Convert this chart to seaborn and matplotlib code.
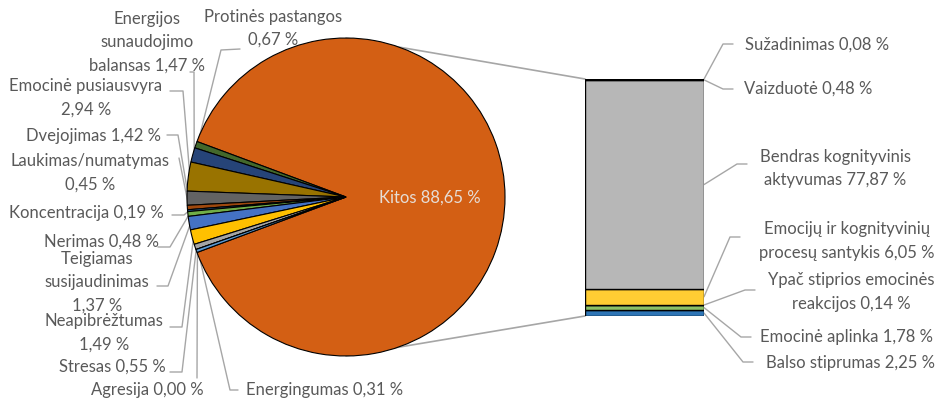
import numpy as np
import matplotlib
matplotlib.use("Agg")
import matplotlib.pyplot as plt
import seaborn as sns

# ---------------- data ----------------
pie_names = ["Kitos ", "Protinės pastangos\n", "Energijos\nsunaudojimo\nbalansas ",
             "Emocinė pusiausvyra\n", "Dvejojimas ", "Laukimas/numatymas\n",
             "Koncentracija ", "Nerimas ", "Teigiamas\nsusijaudinimas\n",
             "Neapibrėžtumas\n", "Stresas ", "Agresija ", "Energingumas "]
pie_values = [88.65, 0.67, 1.47, 2.94, 1.42, 0.45, 0.19, 0.48, 1.37, 1.49, 0.55, 0.00, 0.31]

bar_names = ["Balso stiprumas ", "Emocinė aplinka ", "Ypač stiprios emocinės\nreakcijos ",
             "Emocijų ir kognityvinių\nprocesų santykis ", "Bendras kognityvinis\naktyvumas ",
             "Vaizduotė ", "Sužadinimas "]
bar_values = [2.25, 1.78, 0.14, 6.05, 77.87, 0.48, 0.08]

# ---------------- style ----------------
pie_colors = ["#D35F14", "#43682B", "#264478", "#997300", "#636363", "#9E480E",
              "#255E91", "#70AD47", "#4472C4", "#FFC000", "#A5A5A5", "#698ED0", "#5B9BD5"]
bar_colors = ["#2E75B6", "#8CC168", "#7CAFDD", "#FFCD33", "#B7B7B7", "#F1975A", "#698ED0"]

W, H = 945, 400
sns.set_theme(style="white")
plt.rcParams["font.family"] = ["Lato", "DejaVu Sans"]
TXT = "#595959"
LINE = "#A6A6A6"
FS = 12
LS = 1.55

def fmt(v):
    return f"{v:.2f}".replace(".", ",") + " %"

def P(x, y):  # pixel (y down) -> main axes data
    return (x, H - y)

fig = plt.figure(figsize=(W / 100, H / 100), dpi=100)
ax = fig.add_axes([0, 0, 1, 1])

# pie geometry (layout)
cx, cy, R = P(346, 197)[0], P(346, 197)[1], 159
start = -pie_values[0] / sum(pie_values) * 360 / 2
wedges, _ = ax.pie(pie_values, colors=pie_colors, startangle=start, counterclock=True,
                   center=(cx, cy), radius=R,
                   wedgeprops=dict(edgecolor="black", linewidth=0.8), normalize=True)
for w in wedges:
    w.set_zorder(3)
ax.set_xlim(0, W)
ax.set_ylim(0, H)
ax.set_aspect("equal")
ax.axis("off")

# bar of the "Kitos" part
bx0, bx1, by0, by1 = 585, 704, 79, 316
ax_bar = fig.add_axes([bx0 / W, (H - by1) / H, (bx1 - bx0) / W, (by1 - by0) / H])
bottoms = np.concatenate([[0], np.cumsum(bar_values)[:-1]])
ax_bar.bar([0] * len(bar_values), bar_values, bottom=bottoms, width=1.0,
           color=bar_colors, edgecolor="black", linewidth=1.0, align="center")
ax_bar.set_xlim(-0.5, 0.5)
ax_bar.set_ylim(0, sum(bar_values))
ax_bar.axis("off")
ax_bar.patch.set_alpha(0)

fig.canvas.draw()

def bar_pt(x, y):
    disp = ax_bar.transData.transform((x, y))
    return ax.transData.inverted().transform(disp)

# connector lines pie -> bar
top_bar = bar_pt(-0.5, sum(bar_values))
bot_bar = bar_pt(-0.5, 0)
ax.plot([cx, top_bar[0]], [cy + R, top_bar[1]], color=LINE, lw=1.2, zorder=1)
ax.plot([cx, bot_bar[0]], [cy - R, bot_bar[1]], color=LINE, lw=1.2, zorder=1)

# pie labels (layout)
pie_label_pos = [(430, 198), (273, 28.5), (147, 42.5), (86, 98), (93, 136), (90, 173),
                 (86, 213), (101, 241.5), (97, 282), (104, 333), (112, 367), (147, 390), (325, 390)]
pie_leaders = [None, [(240, 49), (221, 50)], [(190, 72), (194, 72)], [(170, 91), (183, 91)],
               [(167, 135), (178, 135)], [(179, 158)], [(172, 215), (184, 215)],
               [(158, 247), (170, 247)], [(157, 286), (168, 286)], [(170, 327), (182, 327)],
               [(170, 372), (182, 372)], [(197, 378)], [(238, 390), (230, 390)]]

for i, (name, v) in enumerate(zip(pie_names, pie_values)):
    x, y = P(*pie_label_pos[i])
    col = "#E6DDD6" if i == 0 else TXT
    ax.text(x, y, name + fmt(v), ha="center", va="center", fontsize=FS, color=col,
            linespacing=LS, zorder=5)
    if pie_leaders[i] is not None:
        w = wedges[i]
        th = np.deg2rad((w.theta1 + w.theta2) / 2)
        end = (cx + R * 0.99 * np.cos(th), cy + R * 0.99 * np.sin(th))
        pts = [P(*p) for p in pie_leaders[i]] + [end]
        xs, ys = zip(*pts)
        ax.plot(xs, ys, color=LINE, lw=1.0, zorder=2)

# bar labels (layout)
bar_label_pos = [(850, 363), (847, 337), (851, 292), (847, 241), (835, 168.5), (808, 89), (817, 45)]
bar_leaders = [[(753, 362), (743, 362)], [(751, 337), (741, 337)], [(755, 290), (745, 290)],
               [(740, 237), (730, 237)], [(747, 164), (737, 164)], [(733, 89), (723, 89)],
               [(733, 44), (723, 44)]]
for i, (name, v) in enumerate(zip(bar_names, bar_values)):
    x, y = P(*bar_label_pos[i])
    ax.text(x, y, name + fmt(v), ha="center", va="center", fontsize=FS, color=TXT,
            linespacing=LS, zorder=5)
    end = bar_pt(0.5, bottoms[i] + v / 2)
    pts = [P(*p) for p in bar_leaders[i]] + [tuple(end)]
    xs, ys = zip(*pts)
    ax.plot(xs, ys, color=LINE, lw=1.0, zorder=2)

fig.savefig("out.png", dpi=100, facecolor="white")
